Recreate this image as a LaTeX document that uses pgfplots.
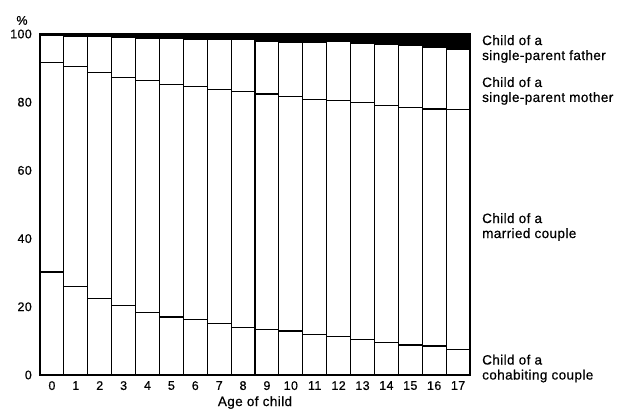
\documentclass[border=0pt]{standalone}
\usepackage{pgfplots}
\pgfplotsset{compat=1.18}
\usepackage{fontspec}
\setmainfont{Liberation Sans}[LetterSpace=3, FakeBold=0.6]
\newcommand{\lblfont}{\fontsize{13.5bp}{15bp}\selectfont}
\newcommand{\tckfont}{\fontsize{12.5bp}{14bp}\selectfont}
\begin{document}
\begin{tikzpicture}
\useasboundingbox (0,0) rectangle (623bp,417bp);
\begin{axis}[
  at={(40bp,42bp)}, anchor=south west,
  scale only axis, width=430bp, height=341bp,
  ybar stacked, bar width=23.889bp,
  xmin=-0.5, xmax=17.5, ymin=0, ymax=100,
  xtick={0,...,17}, ytick={0,20,...,100},
  major tick length=0pt,
  axis lines=left, axis line style={-, line width=1.1pt},
  ticklabel style={font=\tckfont},
  /pgf/number format/assume math mode=true,
  yticklabel style={inner sep=0pt, xshift=-8bp},
  xticklabel style={inner sep=0pt, yshift=-6bp},
  xlabel={Age of child},
  xlabel style={font=\lblfont, inner sep=0pt, yshift=-6bp},
  clip=false,
]
\addplot[draw=black, line width=1.1pt, fill=white] coordinates {
(0,30.2) (1,26.0) (2,22.5) (3,20.3) (4,18.4) (5,17.0) (6,16.2) (7,15.2) (8,14.0)
(9,13.4) (10,12.9) (11,12.0) (12,11.2) (13,10.4) (14,9.6) (15,8.8) (16,8.5) (17,7.6)};
\addplot[draw=black, line width=1.1pt, fill=white] coordinates {
(0,61.5) (1,64.5) (2,66.2) (3,66.9) (4,67.9) (5,68.3) (6,68.3) (7,68.6) (8,69.1)
(9,69.0) (10,68.7) (11,68.9) (12,69.2) (13,69.4) (14,69.5) (15,69.7) (16,69.5) (17,70.2)};
\addplot[draw=black, line width=1.1pt, fill=white] coordinates {
(0,7.9) (1,8.9) (2,10.5) (3,11.8) (4,12.5) (5,13.4) (6,14.0) (7,14.6) (8,15.3)
(9,15.4) (10,16.0) (11,16.7) (12,17.3) (13,17.4) (14,17.7) (15,18.0) (16,18.0) (17,17.6)};
\addplot[draw=black, line width=1.1pt, fill=black] coordinates {
(0,0.4) (1,0.6) (2,0.8) (3,1.0) (4,1.2) (5,1.3) (6,1.5) (7,1.6) (8,1.6)
(9,2.2) (10,2.4) (11,2.4) (12,2.3) (13,2.8) (14,3.2) (15,3.5) (16,4.0) (17,4.6)};
\node[anchor=south, inner sep=0pt, font=\tckfont] at ([xshift=-18bp,yshift=9bp]rel axis cs:0,1) {\%};
\node[anchor=north west, align=left, inner sep=0pt, font=\lblfont, xshift=12bp] at (axis cs:17.5,99.7) {Child of a\\single-parent father};
\node[anchor=north west, align=left, inner sep=0pt, font=\lblfont, xshift=12bp] at (axis cs:17.5,87.4) {Child of a\\single-parent mother};
\node[anchor=north west, align=left, inner sep=0pt, font=\lblfont, xshift=12bp] at (axis cs:17.5,47.5) {Child of a\\married couple};
\node[anchor=north west, align=left, inner sep=0pt, font=\lblfont, xshift=12bp] at (axis cs:17.5,6.0) {Child of a\\cohabiting couple};
\end{axis}
\end{tikzpicture}
\end{document}
